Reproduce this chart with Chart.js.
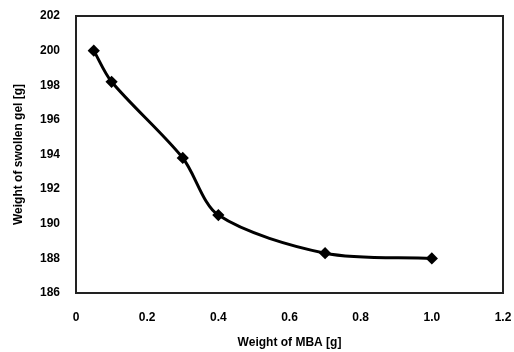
<!DOCTYPE html>
<html>
<head>
<meta charset="utf-8">
<script src="https://cdn.jsdelivr.net/npm/chart.js@4"></script>
<style>
  html, body { margin: 0; padding: 0; background: #fff; }
  #wrap { width: 514px; height: 352px; }
</style>
</head>
<body>
<div id="wrap"><canvas id="chart"></canvas></div>
<script>
const mbaWeight = [0.05, 0.1, 0.3, 0.4, 0.7, 1.0];
const gelWeight = [200.0, 198.2, 193.8, 190.5, 188.3, 188.0];
const xTitle = "Weight of MBA [g]";
const yTitle = "Weight of swollen gel [g]";

const font = { family: "Liberation Sans", size: 12, weight: "bold" };

// box around the plot area
const frame = {
  id: "frame",
  afterDraw(chart) {
    const a = chart.chartArea;
    const ctx = chart.ctx;
    ctx.save();
    ctx.strokeStyle = "#222";
    ctx.lineWidth = 2;
    ctx.strokeRect(a.left, a.top, a.right - a.left, a.bottom - a.top);
    ctx.restore();
  },
};

new Chart(document.getElementById("chart").getContext("2d"), {
  type: "line",
  data: {
    datasets: [
      {
        data: mbaWeight.map((x, i) => ({ x: x, y: gelWeight[i] })),
        borderColor: "#000",
        backgroundColor: "#000",
        borderWidth: 3,
        tension: 0.3,
        pointStyle: "rectRot",
        pointRadius: 4,
        fill: false,
      },
    ],
  },
  options: {
    responsive: true,
    maintainAspectRatio: false,
    animation: false,
    layout: { padding: { top: 0, right: 0, left: 11, bottom: 0 } },
    plugins: { legend: { display: false }, tooltip: { enabled: false } },
    scales: {
      x: {
        type: "linear",
        min: 0,
        max: 1.2,
        afterFit: (s) => { s.height = 59; s.paddingRight = 11; s.paddingLeft = 0; },
        grid: { display: false, drawTicks: false },
        border: { display: false },
        ticks: { stepSize: 0.2, color: "#000", font: font, padding: 17 },
        title: { display: true, text: xTitle, color: "#000", font: font, padding: { top: 0, bottom: 2 } },
      },
      y: {
        min: 186,
        max: 202,
        afterFit: (s) => { s.width = 65; s.paddingTop = 16; s.paddingBottom = 0; },
        grid: { display: false, drawTicks: false },
        border: { display: false },
        ticks: { stepSize: 2, color: "#000", font: font, padding: 16 },
        title: { display: true, text: yTitle, color: "#000", font: font, padding: { top: 0, bottom: 0 } },
      },
    },
  },
  plugins: [frame],
});
</script>
</body>
</html>
